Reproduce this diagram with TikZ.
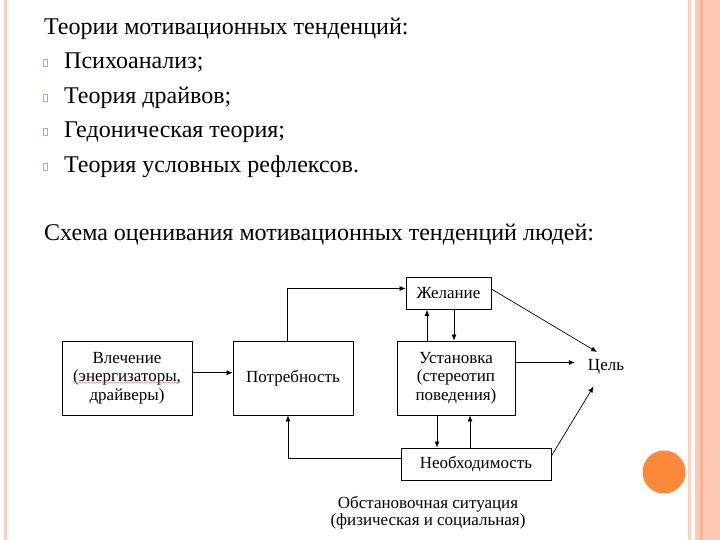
\documentclass[tikz,border=0pt]{standalone}
\usepackage{fontspec}
\setmainfont{Liberation Serif}
\usepackage{xcolor}
\usepackage{tikz}
\usetikzlibrary{arrows.meta,positioning,calc,decorations.pathmorphing}
\definecolor{slidepink}{HTML}{FAD2C4}
\definecolor{slidesalmon}{HTML}{FCCAB3}
\definecolor{slidedark}{HTML}{F6B696}
\definecolor{slideorange}{HTML}{FA8A3A}
\definecolor{bullettan}{HTML}{D9A27A}
\definecolor{spellred}{HTML}{E07070}

\tikzset{
    schemebox/.style={draw=black, line width=0.8pt, fill=white, align=center, inner sep=0pt,
        font=\fontsize{17}{18.3}\selectfont},
    schemetext/.style={align=center, inner sep=0pt, font=\fontsize{17}{17}\selectfont},
    flow/.style={draw=black, line width=0.7pt, -{Latex[length=6pt,width=5pt]}},
    slidetext/.style={anchor=base west, inner sep=0pt, font=\fontsize{24}{28}\selectfont},
    bulletbox/.style={draw=bullettan, line width=0.5pt, minimum width=4pt, minimum height=7pt, inner sep=0pt}
}

\begin{document}
\begin{tikzpicture}[x=1pt, y=-1pt]
    % Slide frame
    \useasboundingbox (0,0) rectangle (720,540);
    \fill[white] (0,0) rectangle (720,540);
    \fill[slidepink] (4,0) rectangle (7,540);
    \fill[slidepink] (688,0) rectangle (691,540);
    \fill[slidesalmon] (695,0) rectangle (720,540);
    \fill[slidedark] (700,0) rectangle (703,540);
    \fill[slideorange] (664,472) circle (21.5);

    % Theories
    \node[slidetext] (title) at (44,34.5) {Теории мотивационных тенденций:};
    \node[slidetext] (item1) at (64,69) {Психоанализ;};
    \node[slidetext] (item2) at (64,103.5) {Теория драйвов;};
    \node[slidetext] (item3) at (64,138) {Гедоническая теория;};
    \node[slidetext] (item4) at (64,172.5) {Теория условных рефлексов.};
    \foreach \n in {1,...,4}
        \node[bulletbox] (bullet\n) at ($(item\n.base west)+(-18.5,-6)$) {};
    \node[slidetext] (schemetitle) at (44,240.5) {Схема оценивания мотивационных тенденций людей:};

    % Scheme boxes
    \node[schemebox, minimum width=130pt, minimum height=74pt] (drive) at (127,378) {Влечение\\(энергизаторы,\\драйверы)};
    \node[schemebox, minimum width=120pt, minimum height=74pt] (need) at (293,378) {Потребность};
    \node[schemebox, minimum width=85pt, minimum height=32pt] (wish) at (448.5,293.5) {Желание};
    \node[schemebox, minimum width=118pt, minimum height=74pt] (attitude) at (456,378) {Установка\\(стереотип\\поведения)};
    \node[schemebox, minimum width=150pt, minimum height=32pt] (necessity) at (476,464) {Необходимость};
    \node[schemetext] (goal) at (606,367) {Цель};
    \node[schemetext] (situation) at (428,513) {Обстановочная ситуация\\(физическая и социальная)};
    \coordinate (goal-top) at (597,352);
    \coordinate (goal-bottom) at (593.5,386.5);

    % Spell-check mark
    \draw[spellred, line width=0.4pt, decorate, decoration={snake, amplitude=0.7pt, segment length=3pt}]
        (72,382.5) -- (180,382.5);

    % Connectors
    \draw[flow] (drive.east |- 0,372.7) -- (need.west |- 0,372.7);
    \draw[flow] (need.north -| 287,0) |- (wish.west |- 0,288.5);
    \draw[flow] (necessity.west |- 0,458.5) -| (need.south -| 288,0);
    \draw[flow] (attitude.north -| 427,0) -- (wish.south -| 427,0);
    \draw[flow] (wish.south -| 454,0) -- (attitude.north -| 454,0);
    \draw[flow] (attitude.south -| 437,0) -- (necessity.north -| 437,0);
    \draw[flow] (necessity.north -| 470,0) -- (attitude.south -| 470,0);
    \draw[flow, shorten >=13pt] (attitude.east |- 0,362.5) -- (goal.west |- 0,362.5);
    \draw[flow] (wish.east |- 0,289) -- (goal-top);
    \draw[flow] (necessity.east |- 0,456) -- (goal-bottom);
\end{tikzpicture}
\end{document}
